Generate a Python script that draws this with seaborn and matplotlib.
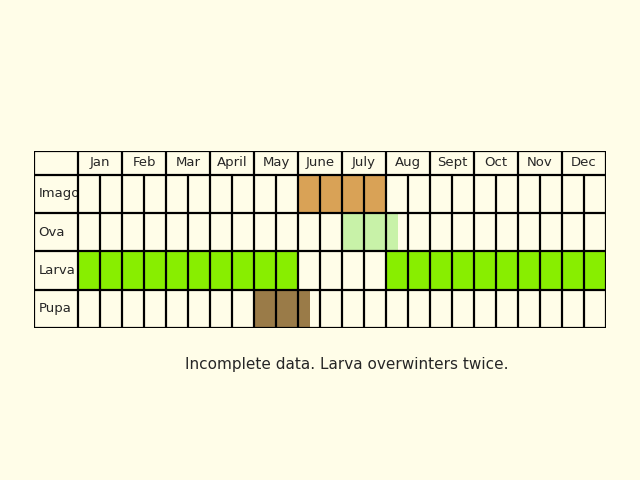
import matplotlib
matplotlib.use('Agg')
import matplotlib.pyplot as plt
import seaborn as sns

months = ['Jan', 'Feb', 'Mar', 'April', 'May', 'June', 'July', 'Aug', 'Sept', 'Oct', 'Nov', 'Dec']
stages = ['Imago', 'Ova', 'Larva', 'Pupa']
# active periods per stage, in months from Jan 1 (start, end)
imago_spans = [(5, 7)]
ova_spans = [(6, 7.27)]
larva_spans = [(0, 5), (7, 12)]
pupa_spans = [(4, 5.27)]
spans = [imago_spans, ova_spans, larva_spans, pupa_spans]
colors = ['#D9A256', '#C8F2A8', '#88EE00', '#9A7B48']
caption = 'Incomplete data. Larva overwinters twice.'

bg = '#FFFDE8'
sns.set_style('white')
fig = plt.figure(figsize=(6.4, 4.8), dpi=100, facecolor=bg)
ax = fig.add_axes([34/640, 152/480, 572/640, 177/480])
ax.set_facecolor(bg)
ax.axis('off')

hh = 0.62  # header height
top = len(stages) + hh
ax.set_xlim(-1, 12)
ax.set_ylim(0, top)

for i, (st, sp, c) in enumerate(zip(stages, spans, colors)):
    y0 = len(stages) - 1 - i
    for a, b in sp:
        ax.barh(y0 + 0.5, b - a, left=a, height=1, color=c, linewidth=0, zorder=1)
    ax.text(-0.9, y0 + 0.5, st, ha='left', va='center', fontsize=9.5)

for j, m in enumerate(months):
    ax.text(j + 0.5, len(stages) + hh / 2, m, ha='center', va='center', fontsize=9.5)

lw = 1.6
for k in range(len(stages) + 1):
    ax.plot([-1, 12], [k, k], color='black', lw=lw, zorder=3, solid_capstyle='projecting')
ax.plot([-1, 12], [top, top], color='black', lw=lw, zorder=3, solid_capstyle='projecting')
for j in range(13):
    ax.plot([j, j], [0, top], color='black', lw=lw, zorder=3)
for j in range(12):
    ax.plot([j + 0.5, j + 0.5], [0, len(stages)], color='black', lw=lw, zorder=3)
ax.plot([-1, -1], [0, top], color='black', lw=lw, zorder=3)

fig.text(347/640, 1 - 365/480, caption, ha='center', va='center', fontsize=11)
fig.savefig('out.png', dpi=100, facecolor=bg)
